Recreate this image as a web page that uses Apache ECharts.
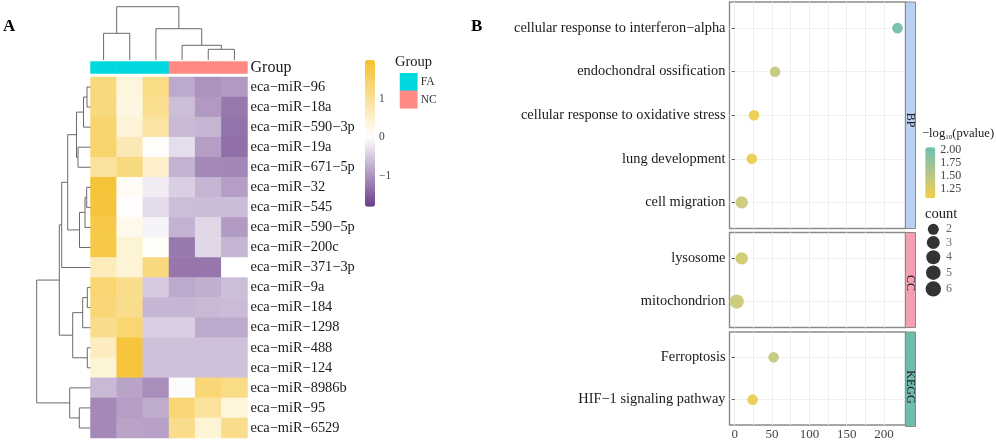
<!DOCTYPE html>
<html><head><meta charset="utf-8">
<style>html,body{margin:0;padding:0;background:#fff}#c{width:996px;height:441px}</style>
<script src="https://cdn.jsdelivr.net/npm/echarts@6/dist/echarts.min.js"></script>
</head><body><div id="c"></div>
<script>
const FONT = '"Liberation Serif","Times New Roman",serif';
// ---- Panel A data
const mirnas = ['eca−miR−96','eca−miR−18a','eca−miR−590−3p','eca−miR−19a','eca−miR−671−5p','eca−miR−32','eca−miR−545','eca−miR−590−5p','eca−miR−200c','eca−miR−371−3p','eca−miR−9a','eca−miR−184','eca−miR−1298','eca−miR−488','eca−miR−124','eca−miR−8986b','eca−miR−95','eca−miR−6529'];
const samples = ['S1','S2','S3','S4','S5','S6'];
const sampleGroups = ['FA','FA','FA','NC','NC','NC'];
const groupNames = ['FA','NC'];
const expression = [
 [1.25,0.33,1.15,-0.8,-1.0,-0.95],
 [1.25,0.3,1.05,-0.6,-0.95,-1.25],
 [1.4,0.38,0.9,-0.65,-0.68,-1.3],
 [1.4,0.72,0.05,-0.32,-0.9,-1.33],
 [0.95,1.25,0.5,-0.72,-1.1,-1.12],
 [1.9,0.1,-0.17,-0.45,-0.7,-0.9],
 [1.85,0.02,-0.33,-0.6,-0.62,-0.62],
 [1.75,0.2,-0.12,-0.72,-0.38,-0.93],
 [1.75,0.4,0.08,-1.25,-0.37,-0.7],
 [0.65,0.4,1.25,-1.27,-1.27,0],
 [1.35,1.1,-0.5,-0.8,-0.75,-0.6],
 [1.3,1.1,-0.68,-0.68,-0.65,-0.63],
 [1.1,1.35,-0.45,-0.45,-0.8,-0.8],
 [0.6,1.85,-0.57,-0.57,-0.57,-0.57],
 [0.4,1.85,-0.57,-0.57,-0.57,-0.57],
 [-0.65,-0.85,-1.05,-0.03,1.3,1.15],
 [-1.1,-0.9,-0.78,1.3,0.95,0.35],
 [-1.1,-0.85,-0.88,1.1,0.4,1.1]
];
const exprTicks = [-1,0,1];
// hclust-style merges: negative = leaf number, positive = earlier merge number, third = height
const rowMerges = [[-1,-2,3.5],[1,-3,7],[-4,-5,12.5],[2,3,14],[-6,-7,3.8],[5,-8,5.5],[6,-9,11],[4,7,22.8],[8,-10,28.8],[-11,-12,3.2],[10,-13,7.8],[-14,-15,3.2],[11,12,17.8],[9,13,31.2],[-17,-18,11.2],[-16,15,20.8],[14,16,53.8]];
const colMerges = [[-1,-2,26.7],[-5,-6,10.7],[-4,2,14.7],[-3,3,31.3],[1,4,53.3]];
// ---- Panel B data
const bpTerms = ['cellular response to interferon−alpha','endochondral ossification','cellular response to oxidative stress','lung development','cell migration'];
const bpX = [218,54,25.8,22.8,9.4];
const bpP = [2.02,1.42,1.13,1.13,1.38];
const bpCount = [2,2,2,2,3];
const ccTerms = ['lysosome','mitochondrion'];
const ccX = [9.4,2.7];
const ccP = [1.33,1.38];
const ccCount = [3,6];
const keggTerms = ['Ferroptosis','HIF−1 signaling pathway'];
const keggX = [52,24];
const keggP = [1.42,1.15];
const keggCount = [2,2];
const xLabelTicks = [0,50,100,150,200];
const xGridTicks = [0,25,50,75,100,125,150,175,200];
const pTicks = [1.25,1.5,1.75,2];
const countKeys = [2,3,4,5,6];

// ---- Styles
const TEAL='#00d8e0', SALMON='#ff8a84';
const groupColor = {FA:TEAL,NC:SALMON};
const symbolFor = {2:11,3:13,4:14,5:14.6,6:15.4};
const dotSize = c => c===2?10.6:c===3?12.4:14.2;
function mix(a,b,t){const p=s=>[1,3,5].map(i=>parseInt(s.substr(i,2),16));const A=p(a),B=p(b);return 'rgb('+A.map((v,i)=>Math.round(v+(B[i]-v)*t)).join(',')+')';}
const EMIN=-1.8, EMAX=2;
const exprStops=[];for(let k=0;k<=38;k++){const v=EMIN+0.1*k;exprStops.push(v<0?mix('#ffffff','#6a3d8a',v/EMIN):mix('#ffffff','#f5c12e',v/EMAX));}

// turn merge table into segments [posA,hA,posB,hB,h]
function segs(merges){const pos=[],h=[];return merges.map((m,i)=>{const ga=x=>x<0?[-x-1,0]:[pos[x-1],h[x-1]];const [pa,ha]=ga(m[0]),[pb,hb]=ga(m[1]);pos[i]=(pa+pb)/2;h[i]=m[2];return [pa,ha,pb,hb,m[2]];});}
const dendroStyle={stroke:'#6a6a6a',lineWidth:1,fill:null};
function renderRow(p,api){const a=[api.value(0),api.value(1),api.value(2),api.value(3),api.value(4)];
 const pts=[[a[1],a[0]],[a[4],a[0]],[a[4],a[2]],[a[3],a[2]]].map(q=>api.coord(q));
 return {type:'polyline',shape:{points:pts},style:dendroStyle,silent:true};}
function renderCol(p,api){const a=[api.value(0),api.value(1),api.value(2),api.value(3),api.value(4)];
 const pts=[[a[0],a[1]],[a[0],a[4]],[a[2],a[4]],[a[2],a[3]]].map(q=>api.coord(q));
 return {type:'polyline',shape:{points:pts},style:dendroStyle,silent:true};}

const grids=[],xAxes=[],yAxes=[],series=[];
function addGrid(g,x,y){grids.push(Object.assign({containLabel:false},g));const i=grids.length-1;xAxes.push(Object.assign({gridIndex:i},x));yAxes.push(Object.assign({gridIndex:i},y));return i;}
const hidden={show:false};

// heatmap
const gHeat=addGrid({left:90.5,top:77,width:157,height:361},
 {type:'category',data:samples,show:false},
 {type:'category',data:mirnas,inverse:true,position:'right',axisLine:hidden,axisTick:hidden,
  axisLabel:{fontFamily:FONT,fontSize:14.4,color:'#1a1a1a',margin:3}});
const heatData=[];expression.forEach((r,i)=>r.forEach((v,j)=>heatData.push([j,i,v])));
series.push({type:'heatmap',xAxisIndex:gHeat,yAxisIndex:gHeat,data:heatData,silent:true,emphasis:{disabled:true}});
const heatIdx=series.length-1;

// annotation bar
const gAnn=addGrid({left:90.5,top:61.5,width:157,height:12},
 {type:'category',data:samples,show:false},
 {type:'category',data:['Group'],position:'right',axisLine:hidden,axisTick:hidden,
  axisLabel:{fontFamily:FONT,fontSize:16,color:'#1a1a1a',margin:3}});
series.push({type:'heatmap',xAxisIndex:gAnn,yAxisIndex:gAnn,silent:true,emphasis:{disabled:true},
 data:sampleGroups.map((g,j)=>({value:[j,0,1],itemStyle:{color:groupColor[g]}}))});

// dendrograms
const gRowD=addGrid({left:36.5,top:77,width:54,height:361},
 {type:'value',min:0,max:54,inverse:true,show:false},
 {type:'value',min:-0.5,max:17.5,inverse:true,show:false});
series.push({type:'custom',xAxisIndex:gRowD,yAxisIndex:gRowD,renderItem:renderRow,data:segs(rowMerges),clip:false,silent:true});
const gColD=addGrid({left:90.5,top:6,width:157,height:54},
 {type:'value',min:-0.5,max:5.5,show:false},
 {type:'value',min:0,max:54,show:false});
series.push({type:'custom',xAxisIndex:gColD,yAxisIndex:gColD,renderItem:renderCol,data:segs(colMerges),clip:false,silent:true});

// expression colour bar labels
addGrid({left:365,top:60,width:10,height:146.7},
 {type:'value',min:0,max:1,show:false},
 {type:'value',min:EMIN,max:EMAX,position:'right',axisLine:hidden,axisTick:hidden,splitLine:hidden,
  axisLabel:{customValues:exprTicks,fontFamily:FONT,fontSize:11.5,color:'#444',margin:4,formatter:v=>String(v).replace('-','−')}});

// group legend
const gLeg=addGrid({left:400,top:73.3,width:17.3,height:35},
 {type:'category',data:['k'],show:false},
 {type:'category',data:groupNames,inverse:true,position:'right',axisLine:hidden,axisTick:hidden,
  axisLabel:{fontFamily:FONT,fontSize:11.5,color:'#333',margin:3.5}});
series.push({type:'heatmap',xAxisIndex:gLeg,yAxisIndex:gLeg,silent:true,emphasis:{disabled:true},
 data:groupNames.map((g,i)=>({value:[0,i,1],itemStyle:{color:groupColor[g]}}))});

// dot panels
function panel(top,height,terms,xs,ps,counts){
 const n=terms.length;
 const i=addGrid({left:729.5,top:top,width:176,height:height,show:true,borderColor:'#8a8a8a',borderWidth:1.4,backgroundColor:'#fff'},
  {type:'value',min:-7,max:228.7,axisLine:hidden,axisTick:{show:false,customValues:xGridTicks},
   splitLine:{show:true,lineStyle:{color:'#efefef',width:1}},
   axisLabel:{show:n===2&&top>300,customValues:xLabelTicks,fontFamily:FONT,fontSize:13,color:'#444',margin:3}},
  {type:'value',min:-0.6,max:n-1+0.6,inverse:true,axisLine:hidden,
   axisTick:{show:true,length:3,lineStyle:{color:'#555'},customValues:terms.map((_,k)=>k)},
   splitLine:{show:true,lineStyle:{color:'#efefef',width:1}},
   axisLabel:{customValues:terms.map((_,k)=>k),fontFamily:FONT,fontSize:14.4,color:'#1a1a1a',margin:4,formatter:v=>terms[Math.round(v)]}});
 series.push({type:'scatter',xAxisIndex:i,yAxisIndex:i,silent:true,clip:false,
  data:terms.map((_,k)=>[xs[k],k,ps[k],counts[k]]),encode:{x:0,y:1},
  symbolSize:v=>dotSize(v[3]),itemStyle:{opacity:0.95}});
 return series.length-1;
}
const dotIdx=[panel(2,226.5,bpTerms,bpX,bpP,bpCount),panel(232.5,95,ccTerms,ccX,ccP,ccCount),panel(332,94.5,keggTerms,keggX,keggP,keggCount)];

// p colour bar labels
addGrid({left:925.3,top:147.3,width:10,height:51},
 {type:'value',min:0,max:1,show:false},
 {type:'value',min:1.07,max:2.04,position:'right',axisLine:hidden,axisTick:hidden,splitLine:hidden,
  axisLabel:{customValues:pTicks,fontFamily:FONT,fontSize:12,color:'#444',margin:5,formatter:v=>v.toFixed(2)}});

// count legend: key heights follow the symbol sizes
let cum=0;const keyY=countKeys.map((c,i)=>{if(i)cum+=(symbolFor[countKeys[i-1]]+symbolFor[c])/2+1.2;return cum;});
const gCount=addGrid({left:923,top:229.3,width:20,height:60},
 {type:'value',min:0,max:20,show:false},
 {type:'value',min:0,max:60,inverse:true,show:false});
series.push({type:'scatter',xAxisIndex:gCount,yAxisIndex:gCount,silent:true,clip:false,
 data:countKeys.map((c,i)=>[10.3,keyY[i],c]),symbolSize:v=>symbolFor[v[2]],itemStyle:{color:'#000'},
 label:{show:true,position:'inside',offset:[12.7,0],align:'left',verticalAlign:'middle',formatter:p=>String(p.value[2]),fontFamily:FONT,fontSize:12,color:'#444'}});

// chrome
const txt=(x,y,text,o)=>({type:'text',x,y,z:20,silent:true,style:Object.assign({text,fontFamily:FONT,fill:'#1a1a1a',textAlign:'left',textVerticalAlign:'middle'},o||{})});
const strip=(top,h,color)=>({type:'rect',silent:true,z:10,shape:{x:905.5,y:top,width:10,height:h},style:{fill:color,stroke:'#8a8a8a',lineWidth:1}});
const stripText=(y,t)=>({type:'text',x:910.5,y,rotation:-Math.PI/2,z:20,silent:true,style:{text:t,fontFamily:FONT,fontSize:12,fill:'#222',textAlign:'center',textVerticalAlign:'middle'}});
const graphic=[
 txt(3,27,'A',{fontSize:17,fontWeight:'bold',fill:'#000'}),
 txt(471,27,'B',{fontSize:17,fontWeight:'bold',fill:'#000'}),
 txt(395,62,'Group',{fontSize:14.5}),
 strip(2,226.5,'#b9d0f0'),strip(232.5,95,'#f4a0b4'),strip(332,94.5,'#6fbcae'),
 stripText(120,'BP'),stripText(283,'CC'),stripText(387,'KEGG'),
 {type:'text',x:922,y:134,z:20,silent:true,style:{text:'{a|−log}{s|10}{a|(pvalue)}',fontFamily:FONT,fill:'#1a1a1a',textVerticalAlign:'middle',
   rich:{a:{fontFamily:FONT,fontSize:12.6,fill:'#1a1a1a'},s:{fontFamily:FONT,fontSize:7,fill:'#1a1a1a',verticalAlign:'bottom',padding:[5,0,0,0]}}}},
 txt(925,214,'count',{fontSize:14.5})
];

const chart=echarts.init(document.getElementById('c'),null,{renderer:'canvas'});
chart.setOption({animation:false,backgroundColor:'#fff',tooltip:{show:false},
 grid:grids,xAxis:xAxes,yAxis:yAxes,series,graphic,
 visualMap:[
  {type:'continuous',seriesIndex:heatIdx,dimension:2,min:EMIN,max:EMAX,left:350,top:45,itemWidth:10,itemHeight:146.7,calculable:false,text:null,showLabel:false,hoverLink:false,inRange:{color:exprStops},textStyle:{fontSize:0},formatter:()=>''},
  {type:'continuous',seriesIndex:dotIdx,dimension:2,min:1.07,max:2.04,left:910.3,top:132.3,itemWidth:10,itemHeight:51,calculable:false,showLabel:false,hoverLink:false,inRange:{color:['#f5cf45','#c9c97a','#9cc495','#6fbfb0']},textStyle:{fontSize:0},formatter:()=>''}
 ]});
</script></body></html>
